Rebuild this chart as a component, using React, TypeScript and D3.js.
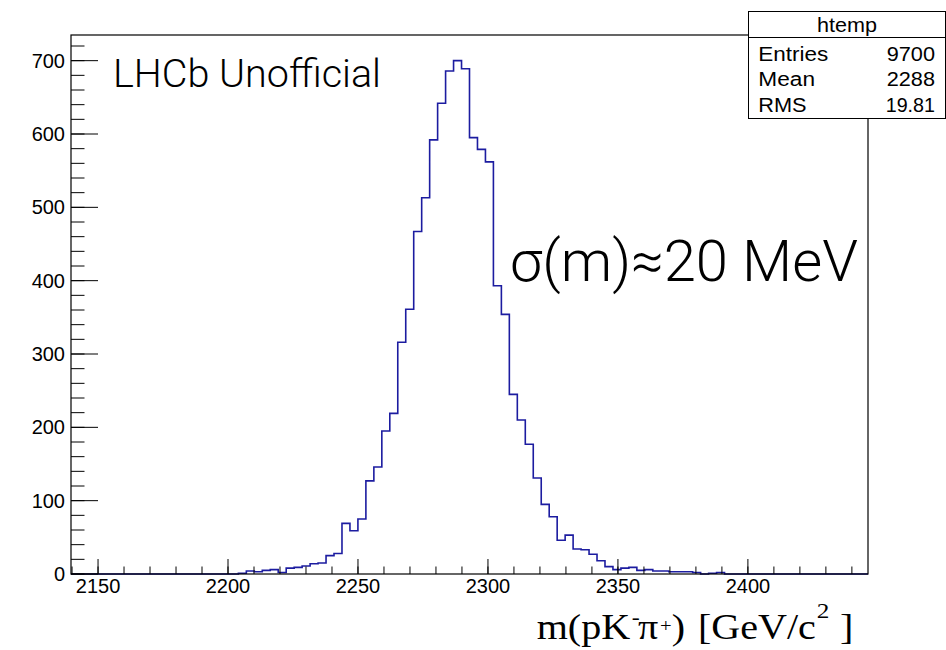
import React from "react";
import * as d3 from "d3";

// Histogram: 100 bins of m(pK-pi+) between X_MIN and X_MAX
const X_MIN = 2139.6;
const X_MAX = 2446.2;
const binCounts: number[] = [
  0, 0, 0, 0, 0, 0, 0, 0, 0, 0,
  0, 0, 0, 0, 0, 0, 0, 0, 0, 0,
  0, 1, 4, 3, 5, 6, 2, 8, 9, 11,
  14, 15, 25, 28, 69, 59, 75, 127, 146, 195,
  219, 316, 361, 467, 513, 592, 642, 686, 700, 689,
  595, 579, 562, 393, 354, 245, 210, 177, 131, 95,
  78, 46, 53, 34, 33, 27, 18, 10, 6, 8,
  9, 5, 6, 4, 4, 3, 3, 3, 2, 0,
  1, 2, 0, 0, 0, 0, 0, 0, 0, 0,
  0, 0, 0, 0, 0, 0, 0, 0, 0, 0,
];
const Y_MAX = 735;
const xMajorTicks = [2150, 2200, 2250, 2300, 2350, 2400];
const yMajorTicks = [0, 100, 200, 300, 400, 500, 600, 700];
const statsTitle = "htemp";
const statsLabels = ["Entries", "Mean", "RMS"];
const statsValues = ["9700", "2288", "19.81"];

const W = 946;
const H = 650;
const frame = { left: 71, right: 868, top: 35, bottom: 574 };
const SANS = "'Liberation Sans', Arial, Helvetica, sans-serif";
const SERIF = "'Liberation Serif', 'Times New Roman', serif";
const LIGHT = "Roboto, 'Liberation Sans', sans-serif";

const statsLabelW = [70, 56.7, 48.3];
const statsValueW = [48.3, 48.3, 49.3];

export default function App() {
  const x = d3.scaleLinear().domain([X_MIN, X_MAX]).range([frame.left, frame.right]);
  const y = d3.scaleLinear().domain([0, Y_MAX]).range([frame.bottom, frame.top]);
  const binW = (X_MAX - X_MIN) / binCounts.length;

  const pts: [number, number][] = [];
  binCounts.forEach((c, i) => {
    pts.push([X_MIN + i * binW, c]);
  });
  pts.push([X_MAX, binCounts[binCounts.length - 1]]);
  const line = d3
    .line<[number, number]>()
    .x((d) => x(d[0]))
    .y((d) => y(d[1]))
    .curve(d3.curveStepAfter);
  const histPath = line(pts) || "";

  const xMinor = d3.range(2140, 2446, 10);
  const yMinor = d3.range(0, Y_MAX, 20);

  // x-axis title pieces (horizontally stretched like the ROOT output)
  const sx = 1.145;
  const tx = 536.7;
  const ty = 639;
  const lx = (gx: number) => (gx - tx) / sx;

  return (
    <svg
      width={W}
      height={H}
      style={{ position: "absolute", left: 0, top: 0, background: "#fff" }}
    >
      <rect x={0} y={0} width={W} height={H} fill="#fff" />
      <path d={histPath} fill="none" stroke="#1c1ca0" strokeWidth={1.6} />
      {/* frame */}
      <rect
        x={frame.left}
        y={frame.top}
        width={frame.right - frame.left}
        height={frame.bottom - frame.top}
        fill="none"
        stroke="#000"
        strokeWidth={1.2}
      />
      {/* x ticks */}
      {xMinor.map((v) => (
        <line key={"xm" + v} x1={x(v)} x2={x(v)} y1={frame.bottom} y2={frame.bottom - 7.5} stroke="#000" strokeWidth={1} />
      ))}
      {xMajorTicks.map((v) => (
        <g key={"xM" + v}>
          <line x1={x(v)} x2={x(v)} y1={frame.bottom} y2={frame.bottom - 15} stroke="#000" strokeWidth={1} />
          <text x={x(v)} y={593} textAnchor="middle" fontFamily={SANS} fontSize={20} fill="#000">
            {v}
          </text>
        </g>
      ))}
      {/* y ticks */}
      {yMinor.map((v) => (
        <line key={"ym" + v} x1={frame.left} x2={frame.left + 13.5} y1={y(v)} y2={y(v)} stroke="#000" strokeWidth={1} />
      ))}
      {yMajorTicks.map((v) => (
        <g key={"yM" + v}>
          <line x1={frame.left} x2={frame.left + 27} y1={y(v)} y2={y(v)} stroke="#000" strokeWidth={1} />
          <text x={65} y={y(v) + 7} textAnchor="end" fontFamily={SANS} fontSize={20} fill="#000">
            {v}
          </text>
        </g>
      ))}
      {/* labels */}
      <text x={113} y={87} fontFamily={LIGHT} fontWeight={300} fontSize={38} fill="#000" textLength={268} lengthAdjust="spacingAndGlyphs">
        LHCb Unofficial
      </text>
      <text x={510} y={281} fontFamily={LIGHT} fontWeight={300} fontSize={57} fill="#000" textLength={348} lengthAdjust="spacingAndGlyphs">
        σ(m)≈20 MeV
      </text>
      <g transform={`translate(${tx},${ty}) scale(${sx},1)`} fontFamily={SERIF} fill="#000">
        <text x={0} y={0} fontSize={35}>m(pK</text>
        <text x={lx(631.7)} y={-15} fontSize={21}>-</text>
        <text x={lx(638)} y={0} fontSize={35}>π</text>
        <text x={lx(660)} y={-7.5} fontSize={18}>+</text>
        <text x={lx(671.7)} y={0} fontSize={35}>)</text>
        <text x={lx(698)} y={0} fontSize={35}>[GeV/c</text>
        <text x={lx(816.7)} y={-21} fontSize={22}>2</text>
        <text x={lx(840)} y={0} fontSize={35}>]</text>
      </g>
      {/* stats box */}
      <rect x={748.5} y={11.5} width={197} height={107} fill="#fff" stroke="#000" strokeWidth={1} />
      <line x1={748.5} x2={946} y1={37.5} y2={37.5} stroke="#000" strokeWidth={1} />
      <text x={847} y={31.5} textAnchor="middle" fontFamily={SANS} fontSize={20} fill="#000" textLength={60} lengthAdjust="spacingAndGlyphs">
        {statsTitle}
      </text>
      {statsLabels.map((s, i) => (
        <g key={s}>
          <text x={758.3} y={60.5 + i * 25.5} fontFamily={SANS} fontSize={20} fill="#000" textLength={statsLabelW[i]} lengthAdjust="spacingAndGlyphs">
            {s}
          </text>
          <text x={935} y={60.5 + i * 25.5} textAnchor="end" fontFamily={SANS} fontSize={20} fill="#000" textLength={statsValueW[i]} lengthAdjust="spacingAndGlyphs">
            {statsValues[i]}
          </text>
        </g>
      ))}
    </svg>
  );
}
